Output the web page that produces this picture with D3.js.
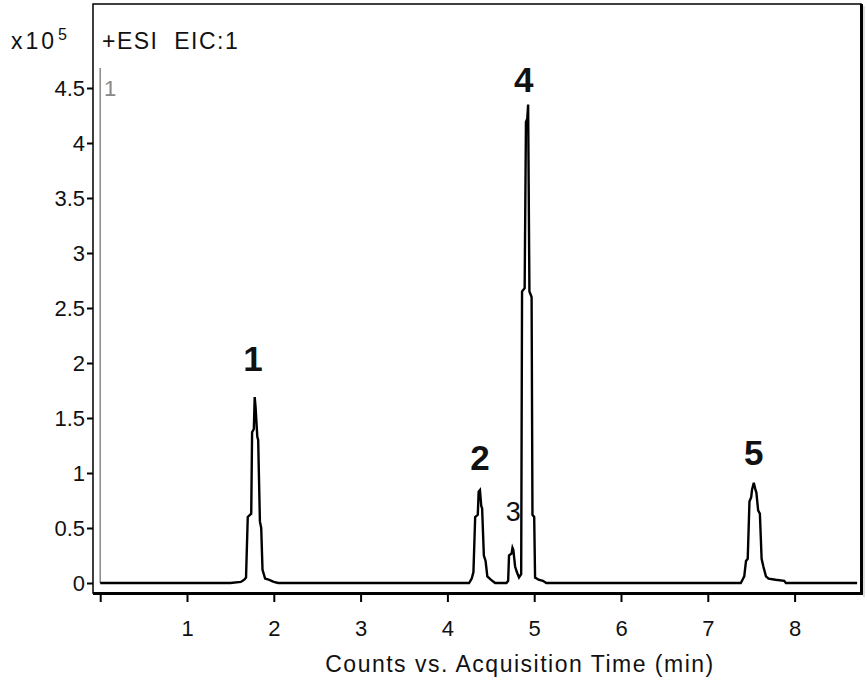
<!DOCTYPE html>
<html><head><meta charset="utf-8">
<script src="https://cdn.jsdelivr.net/npm/d3@7"></script>
<style>
html,body{margin:0;padding:0;background:#fff;}
svg text{font-family:"Liberation Sans",Arial,sans-serif;}
</style></head>
<body><svg id="c" width="867" height="680"></svg>
<script>
// Data (counts in units of 10^5, time in minutes)
const times = [0,1.50,1.62,1.66,1.68,1.70,1.74,1.75,1.77,1.78,1.79,1.81,1.82,1.84,1.855,1.87,1.90,1.94,2.00,2.05,
  4.25,4.28,4.30,4.32,4.35,4.36,4.375,4.39,4.40,4.42,4.44,4.46,4.50,4.55,
  4.68,4.70,4.71,4.74,4.75,4.76,4.78,4.80,4.825,4.85,4.86,4.89,4.905,4.92,4.93,4.945,4.97,4.98,5.00,5.01,5.05,5.10,5.14,
  7.38,7.40,7.42,7.44,7.46,7.48,7.50,7.51,7.53,7.545,7.56,7.58,7.60,7.62,7.64,7.67,7.70,7.78,7.88,7.90,8.72];
const counts = [0,0,0.01,0.03,0.05,0.60,0.63,1.37,1.40,1.69,1.60,1.33,1.30,0.56,0.50,0.12,0.04,0.03,0.01,0,
  0,0.04,0.10,0.60,0.62,0.83,0.845,0.70,0.68,0.25,0.20,0.06,0.03,0,
  0,0.02,0.25,0.27,0.32,0.30,0.15,0.10,0.05,0.08,2.65,2.68,4.19,4.22,4.35,2.65,2.60,0.62,0.60,0.05,0.03,0.02,0,
  0,0.03,0.06,0.20,0.22,0.74,0.78,0.85,0.91,0.86,0.82,0.66,0.63,0.22,0.15,0.06,0.04,0.03,0.02,0,0];
const peakLabels = ["1","2","3","4","5"];
const peakTimes = [1.76,4.375,4.76,4.88,7.53];
const peakLabelValues = [1.93,1.03,0.56,4.46,1.07];
const xTicks = [0,1,2,3,4,5,6,7,8];
const yTicks = [0,0.5,1,1.5,2,2.5,3,3.5,4,4.5];

const svg = d3.select("#c");
const x = d3.scaleLinear().domain([0, 8.75]).range([100.2, 100.2 + 8.75*86.8]);
const y = d3.scaleLinear().domain([0, 4.5]).range([583, 88]);
const L = 93, T = 4, R = 861, B = 593;

// plot frame
svg.append("rect").attr("x",L).attr("y",T).attr("width",R-L).attr("height",B-T)
  .attr("fill","#fff").attr("stroke","#000").attr("stroke-width",1.5);
svg.append("line").attr("x1",R+0.5).attr("x2",R+0.5).attr("y1",T).attr("y2",B+2).attr("stroke","#000").attr("stroke-width",3);
svg.append("line").attr("x1",L).attr("x2",R+2).attr("y1",B+0.5).attr("y2",B+0.5).attr("stroke","#000").attr("stroke-width",3);
svg.append("line").attr("x1",R+3).attr("x2",R+3).attr("y1",T+2).attr("y2",B+4).attr("stroke","#bbb").attr("stroke-width",1);

// axes
const yAxis = svg.append("g").attr("transform",`translate(${L},0)`)
  .call(d3.axisLeft(y).tickValues(yTicks).tickSize(6).tickPadding(2).tickFormat(d3.format("~g")));
const xAxis = svg.append("g").attr("transform",`translate(0,${B+1})`)
  .call(d3.axisBottom(x).tickValues(xTicks).tickSize(8).tickPadding(18).tickFormat(d => d===0 ? "" : d));
[yAxis,xAxis].forEach(g=>{
  g.select(".domain").remove();
  g.selectAll(".tick line").attr("stroke","#000").attr("stroke-width",2);
  g.selectAll(".tick text").attr("fill","#111").style("font-size","22px")
   .style("font-family","'Liberation Sans',Arial,sans-serif");
});
yAxis.selectAll(".tick text").attr("dy","0.36em");

// grey trace marker
svg.append("line").attr("x1",x(0)).attr("x2",x(0)).attr("y1",68).attr("y2",y(0))
  .attr("stroke","#888").attr("stroke-width",1.5);
svg.append("text").attr("x",104).attr("y",96).attr("fill","#888").style("font-size","22px").text("1");

// trace
const pts = times.map((t,i)=>[t,counts[i]]);
svg.append("path").datum(pts)
  .attr("d", d3.line().x(d=>x(d[0])).y(d=>y(d[1])))
  .attr("fill","none").attr("stroke","#000").attr("stroke-width",2.4).attr("stroke-linejoin","miter");

// peak labels
svg.selectAll(".pl").data(peakLabels).enter().append("text")
  .attr("x",(d,i)=>x(peakTimes[i])).attr("y",(d,i)=>y(peakLabelValues[i]))
  .attr("text-anchor","middle")
  .style("font-size",d=> d==="3" ? "27px" : "35px")
  .style("font-weight",d=> d==="3" ? "normal" : "bold")
  .attr("fill","#111").text(d=>d);

// header texts
const sc = svg.append("text").attr("x",11).attr("y",49).attr("fill","#111")
  .style("font-size","23px").style("letter-spacing","3px");
sc.append("tspan").text("x10");
sc.append("tspan").attr("dx",1).attr("dy",-9).style("font-size","16px").style("letter-spacing","0px").text("5");
svg.append("text").attr("x",102).attr("y",49).attr("fill","#111").style("font-size","23px")
  .style("letter-spacing","1.5px").attr("xml:space","preserve").text("+ESI  EIC:1");

// x title
svg.append("text").attr("x",520).attr("y",672).attr("text-anchor","middle").attr("fill","#111")
  .style("font-size","23px").style("letter-spacing","1.5px").text("Counts vs. Acquisition Time (min)");
</script></body></html>
